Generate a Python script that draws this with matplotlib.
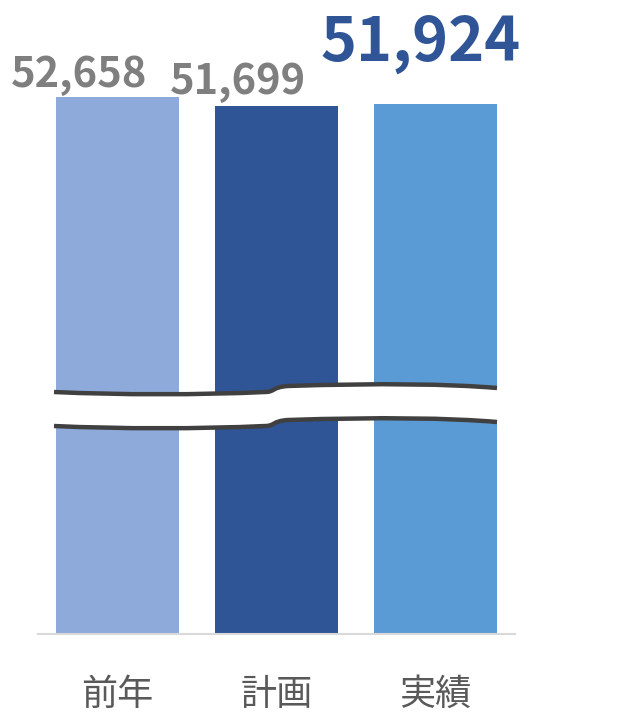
import matplotlib.pyplot as plt
from matplotlib.path import Path
from matplotlib.patches import PathPatch

plt.rcParams['font.family'] = ['Noto Sans CJK JP', 'DejaVu Sans']

categories = ['前年', '計画', '実績']
values = [52658, 51699, 51924]
bar_colors = ['#8eaadb', '#2f5597', '#5b9bd5']
label_colors = ['#7f7f7f', '#7f7f7f', '#2f5597']
label_sizes = [30, 30, 44]
# ラベルのずらし量 (pt)
label_offsets = [(-27.5, 7), (-28, 8.5), (-11, 31)]

# 省略表示のための軸下端 (棒はここから立ち上げる)
y_low = -6412
y_high = 63328


def break_path(y0):
    # 波線 (左から右へ): 軸座標
    W, H = 477.0, 634.0
    pts_px = [(16, 0), (82, 3), (162, 3), (227, 0),
              (237, 0), (234, -5), (250, -6),
              (342, -9), (412, -8), (459, -4)]
    return [(x / W, (H - (y0 + dy)) / H) for x, dy in pts_px]


def draw_break(ax):
    top = break_path(392)
    bot = break_path(426)
    codes = [Path.MOVETO] + [Path.CURVE4] * 9
    verts = top + bot[::-1] + [top[0]]
    band_codes = [Path.MOVETO] + [Path.CURVE4] * 9 + [Path.LINETO] + [Path.CURVE4] * 9 + [Path.CLOSEPOLY]
    band = PathPatch(Path(verts, band_codes), facecolor='white', edgecolor='none',
                     transform=ax.transAxes, zorder=3, clip_on=False)
    ax.add_patch(band)
    for line in (top, bot):
        ax.add_patch(PathPatch(Path(line, codes), facecolor='none', edgecolor='#404040',
                               lw=3.2, transform=ax.transAxes, zorder=4,
                               clip_on=False, capstyle='butt'))


fig = plt.figure(figsize=(6.26, 7.12), dpi=100)
ax = fig.add_axes([38 / 626, 78 / 712, 477 / 626, 634 / 712])

x = range(len(categories))
ax.bar(x, [v - y_low for v in values], bottom=y_low, width=0.774,
       color=bar_colors, zorder=2)

for i, v in enumerate(values):
    ax.annotate(f'{v:,}', (i, v), xytext=label_offsets[i], textcoords='offset points',
                ha='center', va='baseline', fontsize=label_sizes[i],
                fontweight='bold', color=label_colors[i], zorder=5)

draw_break(ax)

ax.set_xlim(-0.5, 2.5)
ax.set_ylim(y_low, y_high)
ax.set_xticks(list(x))
ax.set_xticklabels(categories, fontsize=26, color='#595959')
ax.tick_params(axis='x', length=0, pad=31)
ax.set_yticks([])
for side in ['top', 'right', 'left']:
    ax.spines[side].set_visible(False)
ax.spines['bottom'].set_color('#d9d9d9')
ax.spines['bottom'].set_linewidth(1.5)

plt.savefig('out.png', dpi=100)
plt.close()
